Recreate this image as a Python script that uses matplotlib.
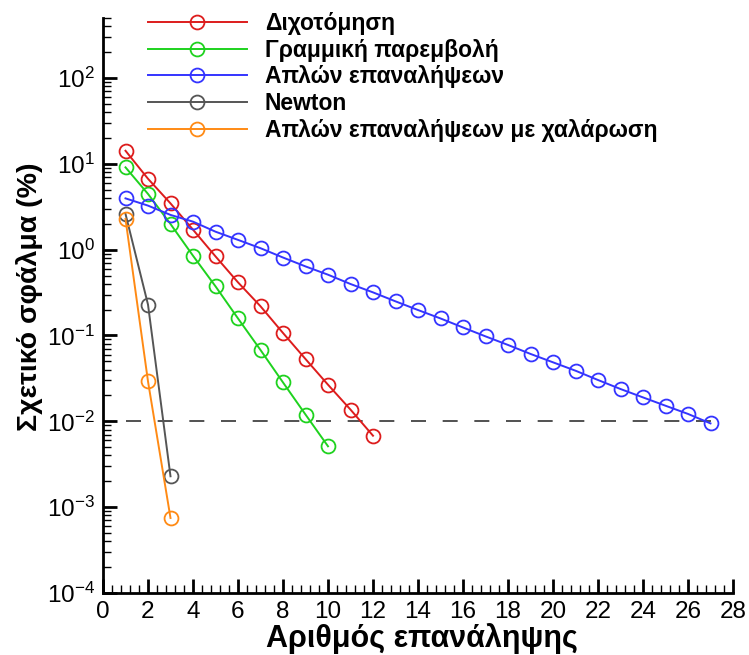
import numpy as np
import matplotlib
matplotlib.use("Agg")
import matplotlib.pyplot as plt
from matplotlib.ticker import LogLocator, MultipleLocator, NullFormatter

plt.rcParams['font.family'] = ['Liberation Sans', 'DejaVu Sans']
plt.rcParams['mathtext.fontset'] = 'custom'
plt.rcParams['mathtext.rm'] = 'Liberation Sans'

# Σχετικό σφάλμα (%) ανά επανάληψη, διαβασμένο από το γράφημα
bisect_it = np.arange(1, 13)
bisect_err = [14.2, 6.7, 3.46, 1.71, 0.835, 0.416, 0.219, 0.107, 0.0532, 0.0267, 0.0137, 0.0068]

regula_it = np.arange(1, 11)
regula_err = [9.1, 4.46, 1.99, 0.85, 0.374, 0.158, 0.0678, 0.0284, 0.012, 0.00512]

fixed_it = np.arange(1, 28)
fixed_err = [3.96, 3.26, 2.54, 2.12, 1.62, 1.30, 1.04, 0.81, 0.638, 0.511,
             0.398, 0.318, 0.25, 0.198, 0.158, 0.124, 0.0977, 0.0776, 0.061,
             0.0487, 0.0389, 0.0303, 0.0238, 0.019, 0.0152, 0.0122, 0.00946]

newton_it = np.arange(1, 4)
newton_err = [2.61, 0.229, 0.00229]

relax_it = np.arange(1, 4)
relax_err = [2.28, 0.0292, 0.000748]

tolerance = 0.01

labels = ["Διχοτόμηση", "Γραμμική παρεμβολή", "Απλών επαναλήψεων",
          "Newton", "Απλών επαναλήψεων με χαλάρωση"]
colors = ["#dd1c1c", "#1ed21e", "#3434ff", "#555555", "#ff8a14"]

fig = plt.figure(figsize=(7.49, 6.55), dpi=100)
ax = fig.add_axes([103/749, 1 - 593/655, 630/749, 575/655])

series = [(bisect_it, bisect_err), (regula_it, regula_err), (fixed_it, fixed_err),
          (newton_it, newton_err), (relax_it, relax_err)]
for (x, y), lab, c in zip(series, labels, colors):
    ax.plot(x, y, color=c, lw=1.4, marker='o', ms=10, mfc='none',
            mec=c, mew=1.3, label=lab)

ax.plot([1, 27], [tolerance, tolerance], color='#333333', lw=1.2,
        linestyle=(0, (9, 10)), zorder=1)

ax.set_yscale('log')
ax.set_xlim(0, 28)
ax.set_ylim(1e-4, 500)

ax.xaxis.set_major_locator(MultipleLocator(2))
ax.xaxis.set_minor_locator(MultipleLocator(0.4))
ax.yaxis.set_major_locator(LogLocator(base=10, numticks=20))
ax.yaxis.set_minor_locator(LogLocator(base=10, subs=np.arange(2, 10), numticks=20))
ax.yaxis.set_minor_formatter(NullFormatter())

for s in ['top', 'right']:
    ax.spines[s].set_visible(False)
for s in ['left', 'bottom']:
    ax.spines[s].set_linewidth(2)

ax.tick_params(which='major', direction='in', length=10, width=2, labelsize=17.5,
               top=False, right=False, pad=6)
ax.tick_params(which='minor', direction='in', length=6, width=1,
               top=False, right=False)

ax.set_xlabel("Αριθμός επανάληψης", fontsize=22, fontweight='bold')
ax.set_ylabel("Σχετικό σφάλμα (%)", fontsize=20.5, fontweight='bold')
ax.xaxis.set_label_coords(0.506, -0.052)
ax.yaxis.set_label_coords(-0.095, 0.515)

ax.legend(loc='upper left', bbox_to_anchor=(148/749, 1 - 12/655),
          bbox_transform=fig.transFigure, frameon=False,
          prop={'weight': 'bold', 'size': 16.5}, handlelength=4.3,
          handletextpad=0.8, labelspacing=0.16, borderpad=0, borderaxespad=0,
          numpoints=1)

fig.savefig("out.png", dpi=100)
